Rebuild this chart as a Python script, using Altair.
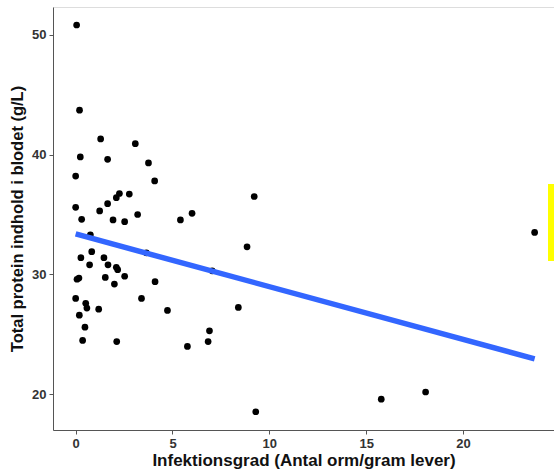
import altair as alt
import pandas as pd

infektion = [0.05, 0.2, 1.29, 3.08, 0.24, 1.65, 3.76, 0.0, 4.08, 2.26, 2.77, 2.1, 1.65, 0.0,
             1.24, 0.31, 1.93, 2.53, 3.2, 5.41, 6.01, 0.76, 0.83, 0.27, 1.46, 3.65, 0.72,
             1.67, 2.1, 2.17, 0.07, 0.17, 1.53, 2.53, 2.0, 4.1, 0.0, 3.4, 0.52, 0.58, 1.19,
             4.74, 0.19, 0.48, 0.36, 2.12, 5.77, 9.22, 8.85, 7.05, 8.4, 6.91, 6.84, 9.3,
             15.78, 18.07, 23.7]
protein = [50.8, 43.7, 41.3, 40.9, 39.8, 39.6, 39.3, 38.2, 37.8, 36.75, 36.7, 36.4, 35.9, 35.6,
           35.3, 34.6, 34.55, 34.4, 35.0, 34.55, 35.1, 33.3, 31.9, 31.4, 31.4, 31.8, 30.8,
           30.8, 30.6, 30.4, 29.6, 29.7, 29.75, 29.85, 29.2, 29.4, 28.0, 28.0, 27.6, 27.2, 27.1,
           27.0, 26.6, 25.6, 24.5, 24.4, 24.0, 36.5, 32.3, 30.3, 27.25, 25.3, 24.4, 18.55,
           19.6, 20.2, 33.5]

x_ticks = [0, 5, 10, 15, 20]
y_ticks = [20, 30, 40, 50]

df = pd.DataFrame({"x": infektion, "y": protein})

xs = alt.Scale(domain=[-1.17, 24.7], nice=False, zero=False)
ys = alt.Scale(domain=[17.03, 52.3], nice=False, zero=False)

x_axis = alt.Axis(title="Infektionsgrad (Antal orm/gram lever)", values=x_ticks, grid=False,
                  domainColor="#555555", tickColor="#555555", tickSize=4,
                  labelFont="Liberation Sans", labelFontWeight="bold", labelFontSize=13,
                  labelColor="#333333", labelPadding=3,
                  titleFont="Liberation Sans", titleFontWeight="bold", titleFontSize=17,
                  titleColor="#111111", titlePadding=2)
y_axis = alt.Axis(title="Total protein indhold i blodet (g/L)", values=y_ticks, grid=False,
                  domainColor="#555555", tickColor="#555555", tickSize=4,
                  labelFont="Liberation Sans", labelFontWeight="bold", labelFontSize=13,
                  labelColor="#333333", labelPadding=3,
                  titleFont="Liberation Sans", titleFontWeight="bold", titleFontSize=16.5,
                  titleColor="#111111", titlePadding=6)

points = alt.Chart(df).mark_circle(color="black", opacity=1, size=45).encode(
    x=alt.X("x:Q", scale=xs, axis=x_axis),
    y=alt.Y("y:Q", scale=ys, axis=y_axis),
)

line = alt.Chart(df).transform_regression("x", "y").mark_line(
    color="#3366FF", strokeWidth=5.5).encode(
    x=alt.X("x:Q", scale=xs),
    y=alt.Y("y:Q", scale=ys),
)

marker = alt.Chart(pd.DataFrame({"a": [0]})).mark_rect(color="#FFFF00").encode(
    x=alt.value(495), x2=alt.value(501), y=alt.value(177), y2=alt.value(254)
)

chart = alt.layer(points, line, marker).properties(
    width=501, height=423,
    autosize=alt.AutoSizeParams(type="none"),
    padding={"left": 53, "top": 7, "right": 0, "bottom": 43},
).configure_view(stroke=None).configure(background="white")

chart.save("out.html", embed_options={"renderer": "svg", "actions": False})
